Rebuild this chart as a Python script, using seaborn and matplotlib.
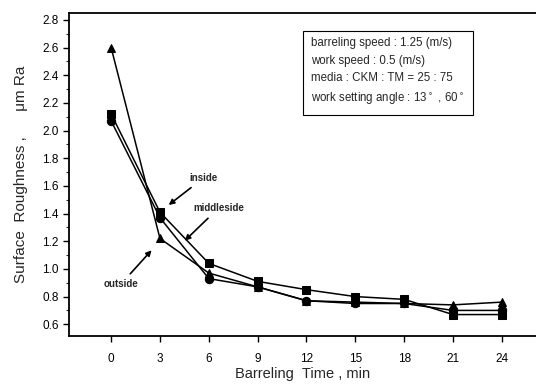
import matplotlib
matplotlib.use("Agg")
import matplotlib.pyplot as plt
import numpy as np
import pandas as pd
import seaborn as sns
from matplotlib.ticker import MultipleLocator, FormatStrFormatter


time_min = [0, 3, 6, 9, 12, 15, 18, 21, 24]
inside = [2.12, 1.41, 1.04, 0.91, 0.85, 0.80, 0.78, 0.67, 0.67]
middleside = [2.07, 1.37, 0.93, 0.87, 0.77, 0.75, 0.75, 0.70, 0.70]
outside = [2.60, 1.22, 0.97, 0.87, 0.77, 0.76, 0.75, 0.74, 0.76]

conditions = [
    "barreling speed : 1.25 (m/s)",
    "work speed : 0.5 (m/s)",
    "media : CKM : TM = 25 : 75",
    "work setting angle : 13$^\\circ$ , 60$^\\circ$",
]

df = pd.DataFrame({
    "time": time_min * 3,
    "ra": inside + middleside + outside,
    "position": ["inside"] * 9 + ["middleside"] * 9 + ["outside"] * 9,
})

sns.set_style("ticks")
plt.rcParams["font.family"] = ["Liberation Sans", "DejaVu Sans"]

fig = plt.figure(figsize=(5.36, 3.84), dpi=100)
ax = fig.add_axes([0.129, 0.125, 0.871, 0.841])

sns.lineplot(
    data=df, x="time", y="ra", hue="position", style="position",
    palette=["black"] * 3, markers={"inside": "s", "middleside": "o", "outside": "^"},
    dashes=False, markersize=6, linewidth=1.1, markeredgecolor="black",
    legend=False, ax=ax,
)

ax.set_xlim(-2.58, 26.1)
ax.set_ylim(0.515, 2.85)
ax.set_xticks(time_min)
ax.yaxis.set_major_locator(MultipleLocator(0.2))
ax.yaxis.set_minor_locator(MultipleLocator(0.1))
ax.yaxis.set_major_formatter(FormatStrFormatter("%.1f"))
ax.tick_params(axis="both", direction="out", labelsize=8.5, width=1, length=4, colors="black")
ax.tick_params(axis="x", pad=8)
ax.tick_params(axis="y", which="minor", direction="out", length=2.5, width=0.8)
for side in ["left", "top", "bottom"]:
    ax.spines[side].set_visible(True)
    ax.spines[side].set_linewidth(1.3)
    ax.spines[side].set_color("black")
ax.spines["right"].set_visible(False)

ax.set_xlabel("Barreling  Time , min", fontsize=10.5, labelpad=2)
ax.set_ylabel("Surface  Roughness ,      \u03bcm Ra", fontsize=11, labelpad=10)

arrow = dict(arrowstyle="-|>", color="black", lw=1.2, mutation_scale=8)
ax.annotate("inside", xy=(3.4, 1.45), xytext=(5.7, 1.66), fontsize=7, fontweight="bold",
            ha="center", va="center", arrowprops=arrow)
ax.annotate("middleside", xy=(4.4, 1.19), xytext=(6.6, 1.44), fontsize=7, fontweight="bold",
            ha="center", va="center", arrowprops=arrow)
ax.annotate("outside", xy=(2.6, 1.15), xytext=(0.6, 0.89), fontsize=7, fontweight="bold",
            ha="center", va="center", arrowprops=arrow)

ax.text(0.518, 0.925, "\n".join(conditions), transform=ax.transAxes, fontsize=8.3,
        va="top", ha="left", linespacing=1.6,
        bbox=dict(boxstyle="square,pad=0.7", facecolor="white", edgecolor="black", linewidth=0.8))

fig.savefig("out.png", dpi=100)
